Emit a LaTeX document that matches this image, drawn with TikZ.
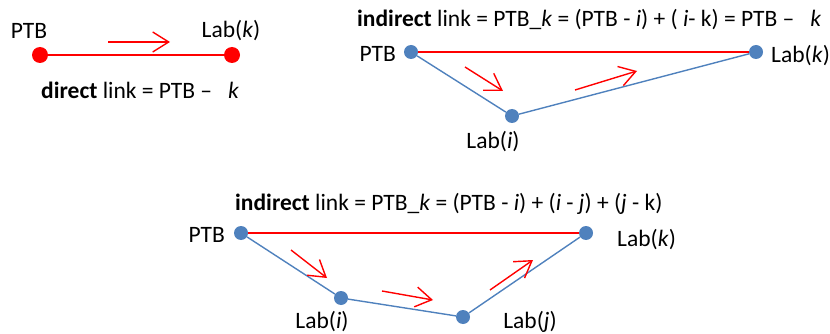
\documentclass[tikz,border=0pt]{standalone}
\usepackage{fontspec}
\setmainfont{Carlito}
\usetikzlibrary{arrows.meta}
\definecolor{dotblue}{HTML}{4F81BD}
\begin{document}
\begin{tikzpicture}[x=1pt,y=-1pt,
  every node/.style={font=\fontsize{23.5}{27}\selectfont},
  reddot/.style={circle,fill=red,inner sep=0pt,minimum size=16pt},
  bluedot/.style={circle,fill=dotblue,inner sep=0pt,minimum size=14pt},
  redlink/.style={red,line width=1.5pt},
  bluelink/.style={dotblue,line width=1.4pt},
  flow/.style={red,line width=1.4pt,-{Straight Barb[length=16pt,width=20pt,line width=1.4pt]}},
  lbl/.style={inner sep=0pt}
]
\useasboundingbox (0,0) rectangle (830,334);
% ---- direct
\node[reddot] (p1) at (40,55) {};
\node[reddot] (k1) at (232,55) {};
\draw[redlink] (p1) -- (k1);
\coordinate (a1s) at (108,42); \coordinate (a1e) at (170,42);
\draw[flow] (a1s) -- (a1e);
\node[lbl] (tp1) at (29,31) {PTB};
\node[lbl] (tk1) at (231,31) {Lab(\textit{k})};
\node[lbl,anchor=west] (td1) at (41,90) {\textbf{direct} link = PTB –\ \ \ \textit{k}};
% ---- indirect 1
\node[bluedot] (p2) at (411,52) {};
\node[bluedot] (k2) at (756,52) {};
\node[bluedot] (i2) at (512,116) {};
\draw[bluelink] (p2) -- (i2) -- (k2);
\draw[redlink] (p2) -- (k2);
\coordinate (a2s) at (465,67); \coordinate (a2e) at (503,91);
\coordinate (a3s) at (575,90); \coordinate (a3e) at (637,71);
\draw[flow] (a2s) -- (a2e);
\draw[flow] (a3s) -- (a3e);
\node[lbl,anchor=east] (tp2) at (396,54) {PTB};
\node[lbl,anchor=west] (tk2) at (771,56) {Lab(\textit{k})};
\node[lbl] (ti2) at (493,142) {Lab(\textit{i})};
\node[lbl,anchor=west] (tt2) at (357,20) {\textbf{indirect} link = PTB\_\textit{k} = (PTB - \textit{i}) + ( \textit{i}- k) = PTB –\ \ \ \textit{k}};
% ---- indirect 2
\node[bluedot] (p3) at (241,233) {};
\node[bluedot] (k3) at (586,233) {};
\node[bluedot] (i3) at (341,298) {};
\node[bluedot] (j3) at (463,317) {};
\draw[bluelink] (p3) -- (i3) -- (j3) -- (k3);
\draw[redlink] (p3) -- (k3);
\coordinate (b1s) at (291,250); \coordinate (b1e) at (327,278);
\coordinate (b2s) at (382,291); \coordinate (b2e) at (433,300);
\coordinate (b3s) at (490,290); \coordinate (b3e) at (533,260);
\draw[flow] (b1s) -- (b1e);
\draw[flow] (b2s) -- (b2e);
\draw[flow] (b3s) -- (b3e);
\node[lbl,anchor=east] (tp3) at (225,235) {PTB};
\node[lbl,anchor=west] (tk3) at (617,240) {Lab(\textit{k})};
\node[lbl] (ti3) at (322,322) {Lab(\textit{i})};
\node[lbl] (tj3) at (530,322) {Lab(\textit{j})};
\node[lbl,anchor=west] (tt3) at (235,204) {\textbf{indirect} link = PTB\_\textit{k} = (PTB - \textit{i}) + (\textit{i} - \textit{j}) + (\textit{j} - k)};
\end{tikzpicture}
\end{document}
